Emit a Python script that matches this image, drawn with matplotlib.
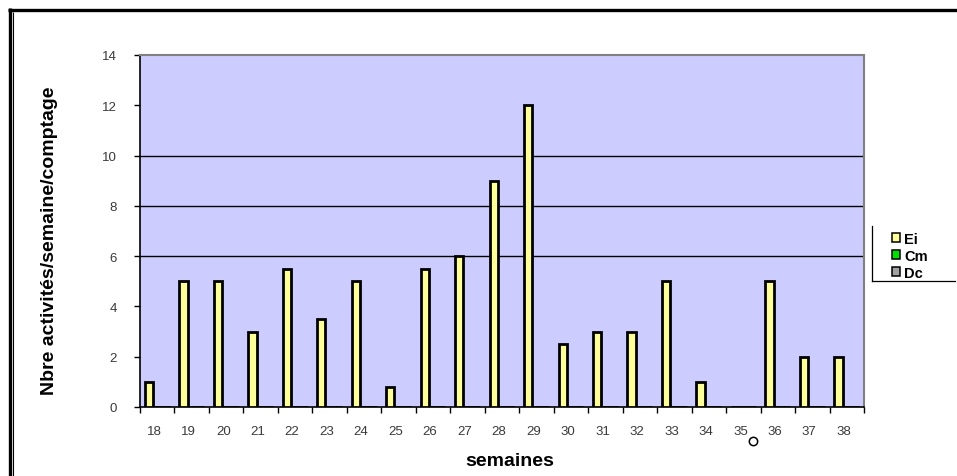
import matplotlib
matplotlib.use("Agg")
import matplotlib.pyplot as plt
from matplotlib.lines import Line2D
from matplotlib.transforms import ScaledTranslation
import numpy as np

plt.rcParams['font.family'] = ['Liberation Sans', 'DejaVu Sans']

# Weekly activity counts
weeks = ['18', '19', '20', '21', '22', '23', '24', '25', '26', '27', '28',
         '29', '30', '31', '32', '33', '34', '35', '36', '37', '38']
ei = [1, 5, 5, 3, 5.5, 3.5, 5, 0.8, 5.5, 6, 9, 12, 2.5, 3, 3, 5, 1, 0, 5, 2, 2]
cm = [0, 0, 0, 0, 0, 0, 0, 0, 0, 0, 0, 0, 0, 0, 0, 0, 0, 0, 0, 0, 0]
dc = [0, 0, 0, 0, 0, 0, 0, 0, 0, 0, 0, 0, 0, 0, 0, 0, 0, 0, 0, 0, 0]
series_names = ['Ei', 'Cm', 'Dc']
y_ticks = [0, 2, 4, 6, 8, 10, 12, 14]
grid_levels = [6, 8, 10]

W, H = 957, 477
fig = plt.figure(figsize=(W / 100, H / 100), dpi=100)
fig.patch.set_facecolor('white')

ax = fig.add_axes([140 / W, 1 - 408 / H, 724 / W, 352 / H])
ax.set_facecolor('#CCCCFF')

x = np.arange(len(weeks))
w = 0.24
b_ei = ax.bar(x - w, ei, width=w, color='#FFFF99', edgecolor='black', linewidth=2.0, zorder=3)
b_cm = ax.bar(x, cm, width=w, color='#00E000', edgecolor='black', linewidth=2.0, zorder=3)
b_dc = ax.bar(x + w, dc, width=w, color='#A0A0A0', edgecolor='black', linewidth=2.0, zorder=3)

for g in grid_levels:
    ax.axhline(g, color='black', linewidth=1.0, zorder=1)

ax.set_xlim(-0.5, len(weeks) - 0.5)
ax.set_ylim(0, 14)

ax.set_yticks(y_ticks)
ax.set_yticklabels([str(v) for v in y_ticks])
ax.tick_params(axis='y', direction='out', length=4.5, width=1, color='black',
               pad=12, labelsize=9.5, labelcolor='#3a3a3a')

ax.set_xticks(x)
ax.set_xticklabels(weeks)
ax.set_xticks(np.arange(-0.5, len(weeks), 1.0), minor=True)
ax.tick_params(axis='x', which='major', length=0, pad=13, labelsize=9.5, labelcolor='#3a3a3a')
ax.tick_params(axis='x', which='minor', direction='out', length=4.5, width=1, color='black')
shift = ScaledTranslation(-3 / 100, 0, fig.dpi_scale_trans)
for lbl in ax.get_xticklabels():
    lbl.set_transform(lbl.get_transform() + shift)

ax.spines['left'].set_color('black')
ax.spines['bottom'].set_color('black')
ax.spines['left'].set_linewidth(1.2)
ax.spines['bottom'].set_linewidth(1.2)
ax.spines['top'].set_color('#808080')
ax.spines['right'].set_color('#808080')
ax.spines['top'].set_linewidth(1.5)
ax.spines['right'].set_linewidth(1.5)

fig.text(50 / W, 1 - 241 / H, 'Nbre activités/semaine/comptage', rotation=90,
         fontsize=14, fontweight='bold', ha='center', va='center')
fig.text(510 / W, 1 - 462 / H, 'semaines', fontsize=14, fontweight='bold',
         ha='center', va='center')

leg = fig.legend([b_ei, b_cm, b_dc], series_names, loc='upper left',
                 bbox_to_anchor=(892 / W, 1 - 233 / H), frameon=False,
                 prop={'size': 10.5, 'weight': 'bold'}, handlelength=0.55, handleheight=0.55,
                 handletextpad=0.3, labelspacing=0.2, borderpad=0, borderaxespad=0)
for p in leg.get_patches():
    p.set_linewidth(1.1)

# legend box edges
fig.add_artist(Line2D([872 / W, 872 / W], [1 - 227 / H, 1 - 282 / H], color='black', lw=0.9))
fig.add_artist(Line2D([872 / W, 955 / W], [1 - 282 / H, 1 - 282 / H], color='black', lw=0.9))

# outer frame
fig.add_artist(Line2D([8 / W, 1.0], [1 - 10.5 / H, 1 - 10.5 / H], color='black', lw=2.4,
                      solid_capstyle='butt'))
fig.add_artist(Line2D([9.5 / W, 9.5 / W], [1 - 9.3 / H, 0.0], color='black', lw=2.4,
                      solid_capstyle='butt'))
fig.add_artist(Line2D([12.5 / W, 12.5 / W], [1 - 12.5 / H, 0.0], color='black', lw=0.8,
                      solid_capstyle='butt'))

# small marker below the x labels
fig.add_artist(Line2D([753 / W], [1 - 441.5 / H], marker='o', markersize=6,
                      markerfacecolor='none', markeredgecolor='black', markeredgewidth=1.1))

fig.savefig('out.png', dpi=100)
